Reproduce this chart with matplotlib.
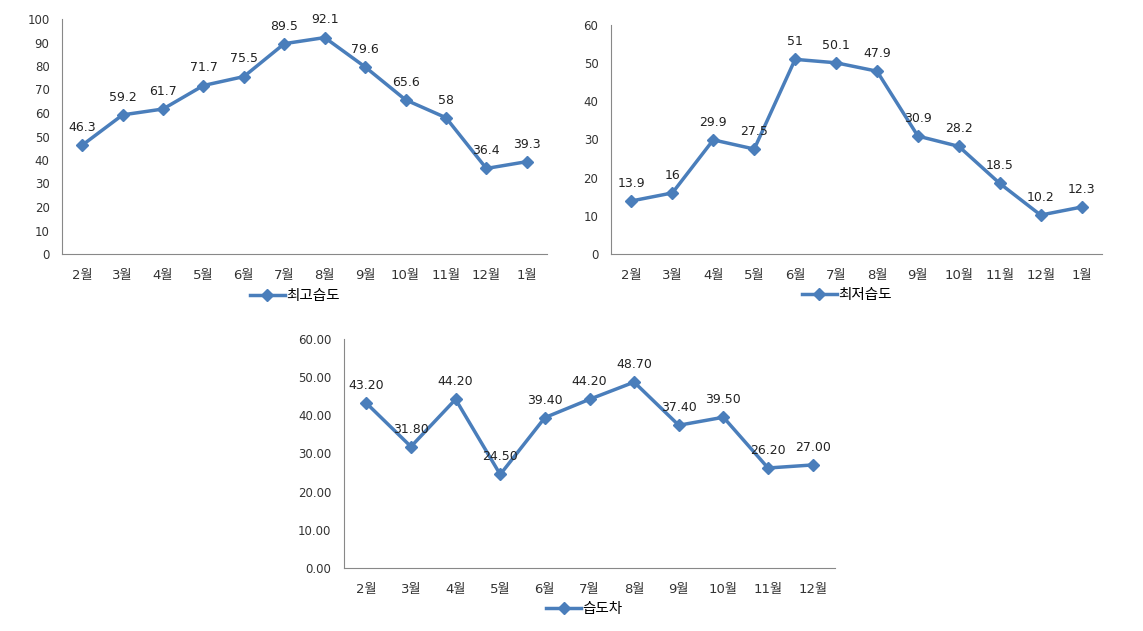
import matplotlib.pyplot as plt
from matplotlib.ticker import FormatStrFormatter

plt.rcParams['font.family'] = ['DejaVu Sans', 'Noto Sans CJK KR']

# data
months_a = ['2월', '3월', '4월', '5월', '6월', '7월', '8월', '9월', '10월', '11월', '12월', '1월']
max_hum = [46.3, 59.2, 61.7, 71.7, 75.5, 89.5, 92.1, 79.6, 65.6, 58, 36.4, 39.3]
min_hum = [13.9, 16, 29.9, 27.5, 51, 50.1, 47.9, 30.9, 28.2, 18.5, 10.2, 12.3]
months_b = ['2월', '3월', '4월', '5월', '6월', '7월', '8월', '9월', '10월', '11월', '12월']
diff_hum = [43.20, 31.80, 44.20, 24.50, 39.40, 44.20, 48.70, 37.40, 39.50, 26.20, 27.00]

W, H = 1143, 631
color = '#4A7EBB'
fig = plt.figure(figsize=(W / 100, H / 100), dpi=100)


def px_axes(left, right, top, bottom):
    return fig.add_axes([left / W, 1 - bottom / H, (right - left) / W, (bottom - top) / H])


def draw(ax, cats, vals, ymax, ystep, label, fmt, lfmt, lx):
    x = range(len(cats))
    ax.plot(x, vals, color=color, lw=2.5, marker='D', ms=6, label=label)
    for xi, v in zip(x, vals):
        ax.annotate(lfmt.format(v), (xi, v), xytext=(0, 8), textcoords='offset points',
                    ha='center', va='bottom', fontsize=9, color='#222222')
    ax.set_xlim(-0.5, len(cats) - 0.5)
    ax.set_ylim(0, ymax)
    ax.set_yticks([i * ystep for i in range(int(ymax / ystep) + 1)])
    ax.yaxis.set_major_formatter(FormatStrFormatter(fmt))
    ax.set_xticks(list(x))
    ax.set_xticklabels(cats)
    ax.tick_params(axis='both', length=0, labelsize=8.5, colors='#333333')
    ax.tick_params(axis='x', labelsize=9.5, pad=11)
    ax.tick_params(axis='y', pad=9)
    for s in ['top', 'right']:
        ax.spines[s].set_visible(False)
    for s in ['left', 'bottom']:
        ax.spines[s].set_color('#888888')
    ax.legend(loc='upper center', bbox_to_anchor=(lx, -0.12), frameon=False,
              fontsize=10.5, handlelength=2.4, handletextpad=0.1, borderaxespad=0)


ax1 = px_axes(62, 547, 19, 254)
draw(ax1, months_a, max_hum, 100, 10, '최고습도', '%d', '{:g}', 0.48)

ax2 = px_axes(611, 1102, 25, 254)
draw(ax2, months_a, min_hum, 60, 10, '최저습도', '%d', '{:g}', 0.48)

ax3 = px_axes(344, 835, 339, 568)
draw(ax3, months_b, diff_hum, 60, 10, '습도차', '%.2f', '{:.2f}', 0.49)

fig.savefig('out.png', dpi=100)
